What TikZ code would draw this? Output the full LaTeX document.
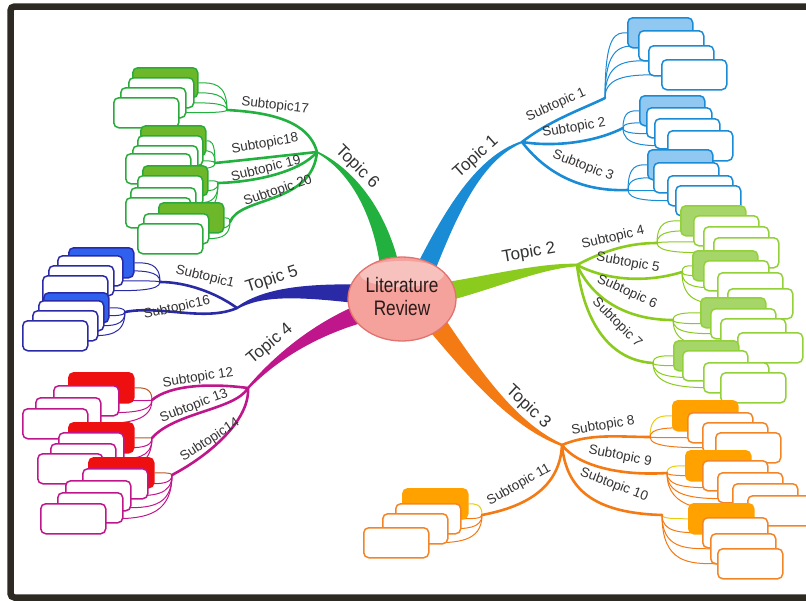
\documentclass[tikz,border=0pt]{standalone}
\usepackage{fontspec}
\setmainfont{Liberation Sans}
\usetikzlibrary{calc,shapes.geometric}
\pgfdeclarelayer{leaves}
\pgfsetlayers{leaves,main}

\definecolor{ink}{HTML}{333333}
\definecolor{framec}{HTML}{2C2A22}
\definecolor{tblue}{HTML}{1A8BD5}
\definecolor{tbluefill}{HTML}{90C8F2}
\definecolor{tlime}{HTML}{8BCB1E}
\definecolor{tlimebox}{HTML}{93D13A}
\definecolor{tlimefill}{HTML}{A6D66A}
\definecolor{torange}{HTML}{F47A14}
\definecolor{torangebox}{HTML}{F28526}
\definecolor{torangefill}{HTML}{FFA200}
\definecolor{tyellow}{HTML}{E9CB10}
\definecolor{tmag}{HTML}{C0168C}
\definecolor{tred}{HTML}{EE1010}
\definecolor{tbrown}{HTML}{B65A22}
\definecolor{tnavy}{HTML}{2A2AA6}
\definecolor{tnavyfill}{HTML}{3060EE}
\definecolor{tgreen}{HTML}{22B03E}
\definecolor{tgreenbox}{HTML}{2AAA3A}
\definecolor{tgreenfill}{HTML}{6DB82A}
\definecolor{lrfill}{HTML}{F4A29B}
\definecolor{lrdraw}{HTML}{E2726E}
\definecolor{lrtext}{HTML}{2B1A1A}

% tapered main branch: colour, start, control 1, control 2, end, half width at start
\newcommand\taper[6]{%
  \fill[#1] let \p0=(#2), \p1=($(#2)!#6!90:(#3)$), \p2=(#3), \p3=(#4), \p4=(#5),
    \n1={\x1-\x0}, \n2={\y1-\y0} in
    (\x1,\y1) .. controls ({\x2+0.7*\n1},{\y2+0.7*\n2}) and ({\x3+0.3*\n1},{\y3+0.3*\n2})
    .. ({\x4+0.14*\n1},{\y4+0.14*\n2})
    -- ({\x4-0.14*\n1},{\y4-0.14*\n2})
    .. controls ({\x3-0.3*\n1},{\y3-0.3*\n2}) and ({\x2-0.7*\n1},{\y2-0.7*\n2})
    .. ({2*\x0-\x1},{2*\y0-\y1}) -- cycle;}

\tikzset{
  box/.style={draw, rounded corners=5pt, line width=1.5pt, fill=white,
    minimum width=65pt, minimum height=30pt, inner sep=0pt, anchor=north west},
  sub/.style={line width=2.6pt, line cap=round},
  leaf/.style={line width=1pt, to path={.. controls (\tikztostart |- \tikztotarget)
    and ($(\tikztostart |- \tikztotarget)!0.5!(\tikztotarget)$) .. (\tikztotarget)}},
  sublab/.style={font=\fontsize{13.5}{14}\selectfont, text=ink, inner sep=0pt},
  toplab/.style={font=\fontsize{17}{18}\selectfont, text=ink, inner sep=0pt},
}

\begin{document}
\begin{tikzpicture}[x=1pt, y=-1pt]
\useasboundingbox (0,0) rectangle (806,600);
\clip (0,0) rectangle (806,600);

% frame
\draw[framec, line width=6.5pt, rounded corners=4pt] (10.5,6.5) rectangle (840,597.5);

% junction points
\coordinate (T1) at (522,142);
\coordinate (T2) at (577,265);
\coordinate (T3) at (562,445);
\coordinate (T4) at (248,388);
\coordinate (T5) at (237,308);
\coordinate (T6) at (317,152);

% main branches
\taper{tblue}{425,270}{450,215}{478,158}{T1}{9.5pt}
\taper{tgreen}{390,268}{380,212}{352,170}{T6}{9.5pt}
\taper{tlime}{445,292}{500,280}{540,266}{T2}{9.5pt}
\taper{torange}{435,322}{470,368}{512,425}{T3}{10pt}
\taper{tmag}{365,312}{318,328}{278,355}{T4}{9.5pt}
\taper{tnavy}{360,294}{300,290}{262,292}{T5}{9.5pt}

% central idea
\node[ellipse, draw=lrdraw, line width=1.3pt, fill=lrfill, minimum width=108pt,
  minimum height=84pt, inner sep=0pt, text=lrtext,
  font=\fontsize{21}{23}\selectfont,
  path picture={\fill[white, opacity=0.35]
    ($(path picture bounding box.north)+(0pt,-17pt)$) ellipse (42pt and 13pt);}]
  (lr) at (402,299) {\scalebox{0.82}[1]{\begin{tabular}{@{}c@{}}Literature\\Review\end{tabular}}};

% ---------- Topic 6 ----------
\coordinate (j17) at (227,110);
\coordinate (j18) at (215,163);
\coordinate (j19) at (218,183);
\coordinate (j20) at (230,222);
\draw[sub, tgreen] (T6) .. controls (308,118) and (262,112) .. (j17);
\draw[sub, tgreen] (T6) .. controls (280,156) and (245,160) .. (j18);
\draw[sub, tgreen] (T6) .. controls (300,172) and (255,182) .. (j19);
\draw[sub, tgreen] (T6) .. controls (312,205) and (240,196) .. (j20);
\tikzset{gbox/.style={box, draw=tgreenbox}}
\node[gbox, fill=tgreenfill] (s17a) at (132,67) {};
\node[gbox] (s17b) at (128,77) {};
\node[gbox] (s17c) at (120,87) {};
\node[gbox] (s17d) at (113,97) {};
\node[gbox, fill=tgreenfill] (s18a) at (140,125) {};
\node[gbox] (s18b) at (137,135) {};
\node[gbox] (s18c) at (132,145) {};
\node[gbox] (s18d) at (125,153) {};
\node[gbox, fill=tgreenfill] (s19a) at (142,165) {};
\node[gbox] (s19b) at (137,175) {};
\node[gbox] (s19c) at (130,187) {};
\node[gbox] (s19d) at (125,197) {};
\node[gbox, fill=tgreenfill] (s20a) at (158,202) {};
\node[gbox] (s20b) at (143,213) {};
\node[gbox] (s20c) at (137,223) {};
\begin{pgfonlayer}{leaves}
  \foreach \s in {17,18,19}{\foreach \k in {a,b,c,d} \draw[leaf, tgreen] (j\s) to (s\s\k.east);}
  \foreach \k in {a,b,c} \draw[leaf, tgreen] (j20) to (s20\k.east);
\end{pgfonlayer}

% ---------- Topic 5 ----------
\coordinate (j15) at (160,282);
\coordinate (j16) at (125,312);
\draw[sub, tnavy] (T5) .. controls (215,292) and (185,282) .. (j15);
\draw[sub, tnavy] (T5) .. controls (205,322) and (160,305) .. (j16);
\tikzset{nbox/.style={box, draw=tnavy}}
\node[nbox, fill=tnavyfill] (s15a) at (68,247) {};
\node[nbox] (s15b) at (57,255) {};
\node[nbox] (s15c) at (48,265) {};
\node[nbox] (s15d) at (42,275) {};
\node[nbox, fill=tnavyfill] (s16a) at (43,292) {};
\node[nbox] (s16b) at (38,300) {};
\node[nbox] (s16c) at (32,310) {};
\node[nbox] (s16d) at (22,320) {};
\begin{pgfonlayer}{leaves}
  \foreach \s in {15,16}{\foreach \k in {a,b,c,d} \draw[leaf, tnavy] (j\s) to (s\s\k.east);}
\end{pgfonlayer}

% ---------- Topic 4 ----------
\coordinate (j12) at (152,400);
\coordinate (j13) at (152,438);
\coordinate (j14) at (172,475);
\draw[sub, tmag] (T4) .. controls (210,383) and (170,385) .. (j12);
\draw[sub, tmag] (T4) .. controls (235,410) and (175,412) .. (j13);
\draw[sub, tmag] (T4) .. controls (250,420) and (210,455) .. (j14);
\tikzset{mbox/.style={box, draw=tmag}}
\node[mbox, draw=tred, fill=tred] (s12a) at (68,372) {};
\node[mbox] (s12b) at (53,385) {};
\node[mbox] (s12c) at (35,397) {};
\node[mbox] (s12d) at (22,408) {};
\node[mbox, draw=tred, fill=tred] (s13a) at (68,422) {};
\node[mbox] (s13b) at (58,432) {};
\node[mbox] (s13c) at (50,443) {};
\node[mbox] (s13d) at (37,453) {};
\node[mbox, draw=tred, fill=tred] (s14a) at (88,457) {};
\node[mbox] (s14b) at (82,468) {};
\node[mbox] (s14c) at (65,480) {};
\node[mbox] (s14d) at (57,492) {};
\node[mbox] (s14e) at (40,503) {};
\begin{pgfonlayer}{leaves}
  \foreach \s in {12,13,14}{
    \draw[leaf, tbrown] (j\s) to (s\s a.east);
    \foreach \k in {b,c,d} \draw[leaf, tmag] (j\s) to (s\s\k.east);}
  \draw[leaf, tmag] (j14) to (s14e.east);
\end{pgfonlayer}

% ---------- Topic 1 ----------
\coordinate (j1) at (605,98);
\coordinate (j2) at (623,128);
\coordinate (j3) at (628,190);
\draw[sub, tblue] (T1) .. controls (550,120) and (585,108) .. (j1);
\draw[sub, tblue] (T1) .. controls (560,148) and (600,140) .. (j2);
\draw[sub, tblue] (T1) .. controls (545,172) and (580,192) .. (j3);
\tikzset{bbox/.style={box, draw=tblue}}
\node[bbox, fill=tbluefill] (s1a) at (627,17) {};
\node[bbox] (s1b) at (638,30) {};
\node[bbox] (s1c) at (648,45) {};
\node[bbox] (s1d) at (661,59) {};
\node[bbox, fill=tbluefill] (s2a) at (639,95) {};
\node[bbox] (s2b) at (646,107) {};
\node[bbox] (s2c) at (654,118) {};
\node[bbox] (s2d) at (667,130) {};
\node[bbox, fill=tbluefill] (s3a) at (647,149) {};
\node[bbox] (s3b) at (653,162) {};
\node[bbox] (s3c) at (667,175) {};
\node[bbox] (s3d) at (675,185) {};
\begin{pgfonlayer}{leaves}
  \foreach \s in {1,2,3}{\foreach \k in {a,b,c,d} \draw[leaf, tblue] (j\s) to (s\s\k.west);}
\end{pgfonlayer}

% ---------- Topic 2 ----------
\coordinate (j4) at (657,243);
\coordinate (j5) at (682,272);
\coordinate (j6) at (673,320);
\coordinate (j7) at (653,363);
\draw[sub, tlime] (T2) .. controls (605,250) and (630,243) .. (j4);
\draw[sub, tlime] (T2) .. controls (610,282) and (650,282) .. (j5);
\draw[sub, tlime] (T2) .. controls (592,298) and (625,320) .. (j6);
\draw[sub, tlime] (T2) .. controls (583,315) and (605,360) .. (j7);
\tikzset{lbox/.style={box, draw=tlimebox}}
\node[lbox, fill=tlimefill] (s4a) at (680,205) {};
\node[lbox] (s4b) at (693,215) {};
\node[lbox] (s4c) at (703,226) {};
\node[lbox] (s4d) at (713,237) {};
\node[lbox, fill=tlimefill] (s5a) at (692,250) {};
\node[lbox] (s5b) at (703,260) {};
\node[lbox] (s5c) at (717,272) {};
\node[lbox] (s5d) at (727,288) {};
\node[lbox, fill=tlimefill] (s6a) at (700,297) {};
\node[lbox] (s6b) at (710,308) {};
\node[lbox] (s6c) at (720,318) {};
\node[lbox] (s6d) at (737,332) {};
\node[lbox, fill=tlimefill] (s7a) at (673,340) {};
\node[lbox] (s7b) at (682,350) {};
\node[lbox] (s7c) at (703,362) {};
\node[lbox] (s7d) at (720,372) {};
\begin{pgfonlayer}{leaves}
  \foreach \s in {4,5,6,7}{\foreach \k in {a,b,c,d} \draw[leaf, tlime] (j\s) to (s\s\k.west);}
\end{pgfonlayer}

% ---------- Topic 3 ----------
\coordinate (j8) at (650,437);
\coordinate (j9) at (667,473);
\coordinate (j10) at (662,515);
\coordinate (j11) at (482,515);
\draw[sub, torange] (T3) .. controls (590,433) and (620,437) .. (j8);
\draw[sub, torange] (T3) .. controls (578,466) and (620,476) .. (j9);
\draw[sub, torange] (T3) .. controls (566,488) and (592,513) .. (j10);
\draw[sub, torange] (T3) .. controls (560,485) and (530,506) .. (j11);
\tikzset{obox/.style={box, draw=torangebox}}
\node[obox, draw=torangefill, fill=torangefill] (s8a) at (672,400) {};
\node[obox] (s8b) at (687,412) {};
\node[obox] (s8c) at (702,422) {};
\node[obox] (s8d) at (715,432) {};
\node[obox, draw=torangefill, fill=torangefill] (s9a) at (685,450) {};
\node[obox] (s9b) at (702,460) {};
\node[obox] (s9c) at (717,472) {};
\node[obox] (s9d) at (732,483) {};
\node[obox] (s9e) at (747,495) {};
\node[obox, draw=torangefill, fill=torangefill] (s10a) at (688,503) {};
\node[obox] (s10b) at (702,517) {};
\node[obox] (s10c) at (710,533) {};
\node[obox] (s10d) at (717,548) {};
\node[obox, draw=torangefill, fill=torangefill] (s11a) at (402,488) {};
\node[obox] (s11b) at (395,503) {};
\node[obox] (s11c) at (382,513) {};
\node[obox] (s11d) at (363,527) {};
\begin{pgfonlayer}{leaves}
  \foreach \s in {8,9,10}{
    \draw[leaf, tyellow] (j\s) to (s\s a.west);
    \foreach \k in {b,c,d} \draw[leaf, torange] (j\s) to (s\s\k.west);}
  \draw[leaf, torange] (j9) to (s9e.west);
  \draw[leaf, tyellow] (j11) to (s11a.east);
  \foreach \k in {b,c,d} \draw[leaf, torange] (j11) to (s11\k.east);
\end{pgfonlayer}

% ---------- labels ----------
\node[toplab, rotate=42]  (lt1) at (476,157) {Topic 1};
\node[toplab, rotate=10]  (lt2) at (529,253) {Topic 2};
\node[toplab, rotate=-43] (lt3) at (528,407) {Topic 3};
\node[toplab, rotate=40]  (lt4) at (270,344) {Topic 4};
\node[toplab, rotate=18]  (lt5) at (272,280) {Topic 5};
\node[toplab, rotate=-45] (lt6) at (357,167) {Topic 6};

\node[sublab, rotate=24]  (ls1)  at (556,105) {Subtopic 1};
\node[sublab, rotate=10]  (ls2)  at (574,128) {Subtopic 2};
\node[sublab, rotate=-21] (ls3)  at (583,166) {Subtopic 3};
\node[sublab, rotate=13]  (ls4)  at (613,238) {Subtopic 4};
\node[sublab, rotate=-10] (ls5)  at (628,263) {Subtopic 5};
\node[sublab, rotate=-24] (ls6)  at (627,292) {Subtopic 6};
\node[sublab, rotate=-45] (ls7)  at (617,323) {Subtopic 7};
\node[sublab, rotate=9]   (ls8)  at (603,426) {Subtopic 8};
\node[sublab, rotate=-11] (ls9)  at (620,456) {Subtopic 9};
\node[sublab, rotate=-21] (ls10) at (614,485) {Subtopic 10};
\node[sublab, rotate=29]  (ls11) at (519,485) {Subtopic 11};
\node[sublab, rotate=9]   (ls12) at (198,378) {Subtopic 12};
\node[sublab, rotate=21]  (ls13) at (194,406) {Subtopic 13};
\node[sublab, rotate=33]  (ls14) at (210,440) {Subtopic14};
\node[sublab, rotate=-14] (ls15) at (205,277) {Subtopic1};
\node[sublab, rotate=12]  (ls16) at (177,308) {Subtopic16};
\node[sublab, rotate=-6]  (ls17) at (275,106) {Subtopic17};
\node[sublab, rotate=10]  (ls18) at (265,144) {Subtopic18};
\node[sublab, rotate=14]  (ls19) at (266,169) {Subtopic 19};
\node[sublab, rotate=19]  (ls20) at (278,191) {Subtopic 20};
\end{tikzpicture}
\end{document}
